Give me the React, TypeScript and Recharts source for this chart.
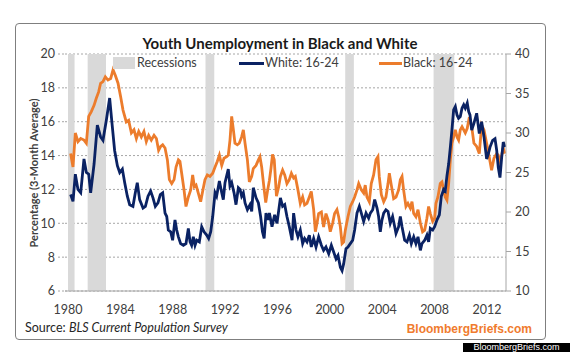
import React from "react";
import {
  CartesianGrid,
  Line,
  LineChart,
  ReferenceArea,
  XAxis,
  YAxis,
} from "recharts";

// White 16-24, 3-month average (left axis)
const whiteDates = [
  1980.2, 1980.38, 1980.56, 1980.76, 1980.97, 1981.22, 1981.4, 1981.58, 1981.73, 1981.99,
  1982.24, 1982.49, 1982.67, 1982.93, 1983.18, 1983.36, 1983.56, 1983.77, 1983.95, 1984.15,
  1984.33, 1984.53, 1984.71, 1984.96, 1985.14, 1985.29, 1985.47, 1985.73, 1985.91, 1986.11,
  1986.31, 1986.49, 1986.67, 1986.87, 1987.05, 1987.23, 1987.41, 1987.54, 1987.66, 1987.84,
  1987.99, 1988.17, 1988.3, 1988.43, 1988.6, 1988.81, 1989.01, 1989.19, 1989.32, 1989.44,
  1989.57, 1989.7, 1989.83, 1990.03, 1990.21, 1990.39, 1990.59, 1990.74, 1990.9, 1991.05,
  1991.23, 1991.35, 1991.56, 1991.74, 1991.86, 1991.99, 1992.24, 1992.37, 1992.5, 1992.68,
  1992.83, 1993.01, 1993.14, 1993.26, 1993.39, 1993.52, 1993.7, 1993.9, 1994.03, 1994.15,
  1994.36, 1994.54, 1994.71, 1994.85, 1994.98, 1995.12, 1995.27, 1995.38, 1995.58, 1995.78,
  1995.96, 1996.22, 1996.39, 1996.55, 1996.72, 1996.9, 1997.11, 1997.23, 1997.41, 1997.56,
  1997.74, 1997.92, 1998.07, 1998.25, 1998.43, 1998.58, 1998.76, 1998.94, 1999.14, 1999.35,
  1999.52, 1999.7, 1999.91, 2000.11, 2000.29, 2000.47, 2000.62, 2000.8, 2000.93, 2001.05,
  2001.23, 2001.38, 2001.56, 2001.74, 2001.89, 2002.07, 2002.25, 2002.4, 2002.58, 2002.76,
  2002.96, 2003.09, 2003.27, 2003.42, 2003.6, 2003.72, 2003.85, 2003.98, 2004.11, 2004.28,
  2004.44, 2004.61, 2004.79, 2004.95, 2005.05, 2005.25, 2005.38, 2005.51, 2005.71, 2005.89,
  2006.07, 2006.22, 2006.4, 2006.57, 2006.73, 2006.91, 2007.03, 2007.24, 2007.41, 2007.54,
  2007.67, 2007.85, 2008.0, 2008.18, 2008.36, 2008.51, 2008.69, 2008.81, 2008.94, 2009.07,
  2009.2, 2009.32, 2009.45, 2009.58, 2009.71, 2009.83, 2009.96, 2010.09, 2010.22, 2010.34,
  2010.49, 2010.6, 2010.7, 2010.83, 2011.0, 2011.21, 2011.41, 2011.59, 2011.77, 2011.97,
  2012.1, 2012.23, 2012.43, 2012.61, 2012.74, 2012.86, 2012.99, 2013.12, 2013.24, 2013.37,
];
const whiteRates = [
  11.7, 11.3, 12.9, 12.0, 11.8, 13.8, 13.0, 12.9, 11.8, 13.5,
  15.8, 15.1, 14.9, 16.1, 17.4, 15.9, 14.3, 13.4, 13.0, 13.2,
  12.4, 11.6, 11.1, 11.0, 11.8, 12.4, 11.4, 10.9, 11.0, 11.6,
  11.9, 11.5, 11.0, 11.2, 11.7, 11.8, 10.6, 10.4, 9.6, 9.5,
  9.0, 10.2, 9.6, 9.2, 8.8, 8.7, 8.8, 9.7, 8.9, 8.7,
  9.2, 8.7, 9.0, 8.9, 9.8, 9.5, 9.3, 9.1, 9.5, 10.4,
  11.8, 11.6, 12.5, 11.8, 11.4, 12.4, 13.2, 12.2, 12.4, 11.8,
  11.1, 12.1, 12.0, 11.6, 11.8, 11.2, 10.8, 11.1, 10.7, 12.1,
  11.5, 11.2, 10.4, 9.5, 9.1, 10.6, 10.2, 10.6, 9.8, 10.5,
  10.0, 11.5, 11.0, 11.1, 10.4, 9.8, 9.0, 10.6, 9.6, 9.2,
  9.6, 8.8, 9.1, 8.9, 9.3, 8.6, 9.1, 8.6, 9.2, 8.7,
  8.4, 8.6, 8.2, 8.7, 8.3, 7.9, 8.1, 7.4, 7.2, 7.6,
  8.5, 8.6, 8.8, 9.0, 9.6, 10.6, 11.0, 10.6, 10.1, 10.6,
  10.3, 10.6, 10.8, 11.4, 10.9, 10.4, 9.5, 10.2, 10.6, 10.8,
  10.7, 10.0, 10.4, 9.8, 9.4, 9.8, 10.4, 9.8, 9.0, 8.9,
  9.3, 8.8, 9.2, 8.8, 9.2, 8.4, 8.8, 9.0, 9.3, 8.9,
  9.7, 9.6, 9.8, 10.2, 10.5, 11.6, 12.0, 11.9, 12.8, 13.5,
  14.5, 15.5, 16.7, 16.9, 16.4, 16.2, 16.3, 16.8, 17.0, 16.8,
  17.1, 16.6, 16.4, 15.5, 15.9, 16.5, 15.3, 16.0, 15.1, 13.8,
  14.1, 14.5, 14.9, 15.0, 14.3, 13.3, 12.7, 13.9, 14.8, 14.5,
];

// Black 16-24, 3-month average (right axis)
const blackDates = [
  1980.2, 1980.38, 1980.56, 1980.76, 1980.97, 1981.22, 1981.4, 1981.58, 1981.78, 1981.99,
  1982.16, 1982.34, 1982.49, 1982.67, 1982.85, 1983.05, 1983.26, 1983.44, 1983.61, 1983.82,
  1984.02, 1984.2, 1984.45, 1984.63, 1984.84, 1985.04, 1985.22, 1985.4, 1985.6, 1985.8,
  1985.98, 1986.16, 1986.36, 1986.57, 1986.75, 1986.92, 1987.08, 1987.23, 1987.41, 1987.59,
  1987.74, 1987.92, 1988.1, 1988.25, 1988.43, 1988.55, 1988.68, 1988.86, 1989.01, 1989.19,
  1989.37, 1989.52, 1989.65, 1989.78, 1989.95, 1990.13, 1990.28, 1990.46, 1990.64, 1990.84,
  1991.05, 1991.23, 1991.4, 1991.56, 1991.74, 1991.91, 1992.12, 1992.24, 1992.37, 1992.5,
  1992.63, 1992.75, 1992.93, 1993.08, 1993.26, 1993.39, 1993.52, 1993.7, 1993.85, 1994.03,
  1994.15, 1994.36, 1994.54, 1994.66, 1994.79, 1994.97, 1995.1, 1995.25, 1995.38, 1995.5,
  1995.62, 1995.75, 1995.92, 1996.09, 1996.22, 1996.39, 1996.55, 1996.72, 1996.9, 1997.06,
  1997.23, 1997.36, 1997.56, 1997.74, 1997.92, 1998.07, 1998.25, 1998.43, 1998.58, 1998.76,
  1998.89, 1999.02, 1999.14, 1999.35, 1999.52, 1999.7, 1999.86, 2000.03, 2000.21, 2000.36,
  2000.54, 2000.67, 2000.8, 2000.93, 2001.05, 2001.18, 2001.38, 2001.56, 2001.74, 2001.89,
  2002.07, 2002.2, 2002.4, 2002.58, 2002.7, 2002.83, 2003.01, 2003.16, 2003.34, 2003.52,
  2003.67, 2003.77, 2003.93, 2004.11, 2004.28, 2004.44, 2004.54, 2004.69, 2004.87, 2005.05,
  2005.25, 2005.38, 2005.51, 2005.63, 2005.81, 2005.96, 2006.14, 2006.27, 2006.4, 2006.57,
  2006.73, 2006.91, 2007.08, 2007.24, 2007.41, 2007.54, 2007.67, 2007.85, 2008.0, 2008.1,
  2008.25, 2008.43, 2008.56, 2008.69, 2008.81, 2008.94, 2009.07, 2009.2, 2009.32, 2009.45,
  2009.58, 2009.71, 2009.83, 2009.96, 2010.09, 2010.34, 2010.49, 2010.65, 2010.83, 2011.0,
  2011.21, 2011.41, 2011.59, 2011.77, 2011.97, 2012.1, 2012.23, 2012.35, 2012.53, 2012.74,
  2012.86, 2012.99, 2013.12, 2013.24, 2013.37,
];
const blackRates = [
  27.4, 25.7, 30.0, 28.9, 29.3, 29.1, 28.7, 32.1, 32.7, 33.5,
  34.4, 35.2, 36.3, 36.5, 37.1, 36.7, 36.9, 38.0, 37.3, 36.3,
  34.6, 32.9, 31.4, 31.6, 30.0, 30.4, 29.3, 30.2, 29.5, 30.2,
  28.9, 29.7, 29.1, 29.7, 29.3, 27.8, 28.3, 28.5, 28.1, 26.6,
  24.1, 23.6, 24.1, 25.7, 26.6, 26.4, 24.9, 22.8, 20.7, 21.9,
  22.8, 24.7, 23.2, 23.4, 22.4, 21.3, 22.6, 24.1, 24.7, 24.5,
  24.9, 25.7, 26.4, 27.2, 25.9, 26.8, 27.0, 27.2, 29.1, 32.1,
  30.4, 28.7, 28.5, 28.7, 29.5, 30.4, 28.7, 26.6, 23.8, 24.5,
  25.5, 25.9, 26.6, 27.0, 25.7, 23.0, 21.2, 22.8, 24.0, 25.5,
  27.3, 26.6, 22.0, 23.2, 24.5, 25.3, 24.7, 23.6, 24.1, 24.9,
  24.3, 24.5, 22.8, 21.1, 21.9, 20.9, 21.1, 21.9, 22.6, 20.3,
  17.5, 18.6, 19.8, 20.0, 18.1, 19.8, 19.0, 17.5, 18.6, 19.8,
  20.3, 19.4, 18.1, 16.0, 16.2, 17.7, 19.4, 20.7, 21.3, 21.9,
  22.8, 23.6, 22.8, 22.4, 23.4, 21.9, 21.3, 23.6, 24.7, 26.6,
  27.0, 24.5, 22.2, 21.3, 21.9, 23.6, 24.9, 23.4, 21.7, 21.9,
  22.8, 24.1, 24.5, 22.8, 20.7, 21.1, 20.5, 21.3, 19.8, 19.4,
  20.3, 18.6, 17.5, 17.7, 19.2, 20.7, 19.8, 18.8, 19.2, 21.1,
  21.9, 23.6, 23.8, 22.8, 21.9, 21.5, 23.6, 26.6, 28.7, 29.5,
  30.4, 29.5, 29.1, 30.4, 30.8, 30.0, 30.6, 32.0, 30.8, 28.7,
  28.3, 27.4, 31.0, 30.4, 28.7, 27.6, 26.4, 25.3, 26.8, 27.4,
  27.2, 26.4, 27.2, 28.1, 27.4,
];

const recessionStarts = [1980.0, 1981.5, 1990.5, 2001.17, 2007.92];
const recessionEnds = [1980.5, 1982.9, 1991.17, 2001.83, 2009.5];

const yearTicks = [1980, 1984, 1988, 1992, 1996, 2000, 2004, 2008, 2012];
const leftTicks = [6, 8, 10, 12, 14, 16, 18, 20];
const rightTicks = [10, 15, 20, 25, 30, 35, 40];

const NAVY = "#0a2263";
const ORANGE = "#ec7c2c";
const RECESSION = "#d9d9d9";
const AXIS = "#a6a6a6";
const TEXT = "#404040";
const FONT = "Lato, 'Liberation Sans', sans-serif";

const whiteData = whiteDates.map((t, i) => ({ t, v: whiteRates[i] }));
const blackData = blackDates.map((t, i) => ({ t, v: blackRates[i] }));

const tickStyle = { fontSize: 12.5, fill: TEXT, fontFamily: FONT };

export default function App() {
  return (
    <div
      style={{
        position: "absolute",
        left: 0,
        top: 0,
        width: 570,
        height: 352,
        background: "#fff",
        fontFamily: FONT,
        color: TEXT,
        overflow: "hidden",
      }}
    >
      {/* frame */}
      <div
        style={{
          position: "absolute",
          left: 15,
          top: 23,
          width: 529,
          height: 315,
          border: "1px solid #7f7f7f",
          borderRadius: 4,
        }}
      />

      <div
        style={{
          position: "absolute",
          left: 0,
          width: 560,
          top: 35,
          lineHeight: "17px",
          textAlign: "center",
          fontWeight: 700,
          fontSize: 15,
          color: "#1a1a1a",
        }}
      >
        Youth Unemployment in Black and White
      </div>

      <div style={{ position: "absolute", left: 0, top: 0 }}>
        <LineChart
          width={570}
          height={352}
          margin={{ top: 54, right: 34, bottom: 36, left: 25 }}
        >
          <CartesianGrid
            yAxisId="left"
            vertical={false}
            stroke={AXIS}
            strokeDasharray="2 2"
          />
          {recessionStarts.map((s, i) => (
            <ReferenceArea
              key={s}
              yAxisId="left"
              x1={s}
              x2={recessionEnds[i]}
              fill={RECESSION}
              fillOpacity={1}
              stroke="none"
            />
          ))}
          <XAxis
            dataKey="t"
            type="number"
            domain={[1979.77, 2013.45]}
            ticks={yearTicks}
            allowDataOverflow
            height={25}
            tick={tickStyle}
            tickLine={false}
            tickSize={0}
            tickMargin={14}
            axisLine={{ stroke: AXIS }}
          />
          <YAxis
            yAxisId="left"
            domain={[6, 20]}
            ticks={leftTicks}
            width={40}
            tick={tickStyle}
            axisLine={false}
            tickLine={{ stroke: AXIS, strokeDasharray: "2 2" }}
            tickSize={7}
            tickMargin={3}
          />
          <YAxis
            yAxisId="right"
            orientation="right"
            domain={[10, 40]}
            ticks={rightTicks}
            width={30}
            tick={tickStyle}
            axisLine={{ stroke: AXIS }}
            tickLine={{ stroke: AXIS }}
            tickSize={5}
            tickMargin={4}
          />
          <Line
            data={blackData}
            yAxisId="right"
            dataKey="v"
            type="linear"
            stroke={ORANGE}
            strokeWidth={2.8}
            dot={false}
            isAnimationActive={false}
          />
          <Line
            data={whiteData}
            yAxisId="left"
            dataKey="v"
            type="linear"
            stroke={NAVY}
            strokeWidth={2.8}
            dot={false}
            isAnimationActive={false}
          />
        </LineChart>
      </div>

      {/* legend */}
      <div style={{ position: "absolute", left: 113, top: 57, width: 22, height: 12, background: RECESSION }} />
      <div style={{ position: "absolute", left: 137, top: 55, fontSize: 12.5, lineHeight: "16px" }}>
        Recessions
      </div>
      <div style={{ position: "absolute", left: 239, top: 62, width: 25, height: 3, background: NAVY }} />
      <div style={{ position: "absolute", left: 265, top: 55, fontSize: 12.5, lineHeight: "16px" }}>
        White: 16-24
      </div>
      <div style={{ position: "absolute", left: 379, top: 62, width: 23, height: 3, background: ORANGE }} />
      <div style={{ position: "absolute", left: 403, top: 55, fontSize: 12.5, lineHeight: "16px" }}>
        Black: 16-24
      </div>

      {/* y axis title */}
      <div
        style={{
          position: "absolute",
          left: 33,
          top: 173,
          transform: "translate(-50%, -50%) rotate(-90deg)",
          whiteSpace: "nowrap",
          fontSize: 11,
          fontWeight: 700,
          lineHeight: "13px",
        }}
      >
        Percentage (3-Month Average)
      </div>

      <div style={{ position: "absolute", left: 25, top: 320, fontSize: 12.5, lineHeight: "16px", color: "#262626" }}>
        Source: <i>BLS Current Population Survey</i>
      </div>
      <div
        style={{
          position: "absolute",
          right: 38,
          top: 321,
          fontSize: 12,
          lineHeight: "16px",
          fontWeight: 700,
          color: "#f07b2e",
          fontFamily: "'Liberation Sans', Arial, sans-serif",
        }}
      >
        BloombergBriefs.com
      </div>

      <div
        style={{
          position: "absolute",
          left: 463,
          top: 343,
          width: 107,
          height: 9,
          background: "#000",
          color: "#fff",
          fontSize: 9,
          lineHeight: "9px",
          textAlign: "center",
          fontFamily: "'Liberation Sans', Arial, sans-serif",
        }}
      >
        BloombergBriefs.com
      </div>
    </div>
  );
}
